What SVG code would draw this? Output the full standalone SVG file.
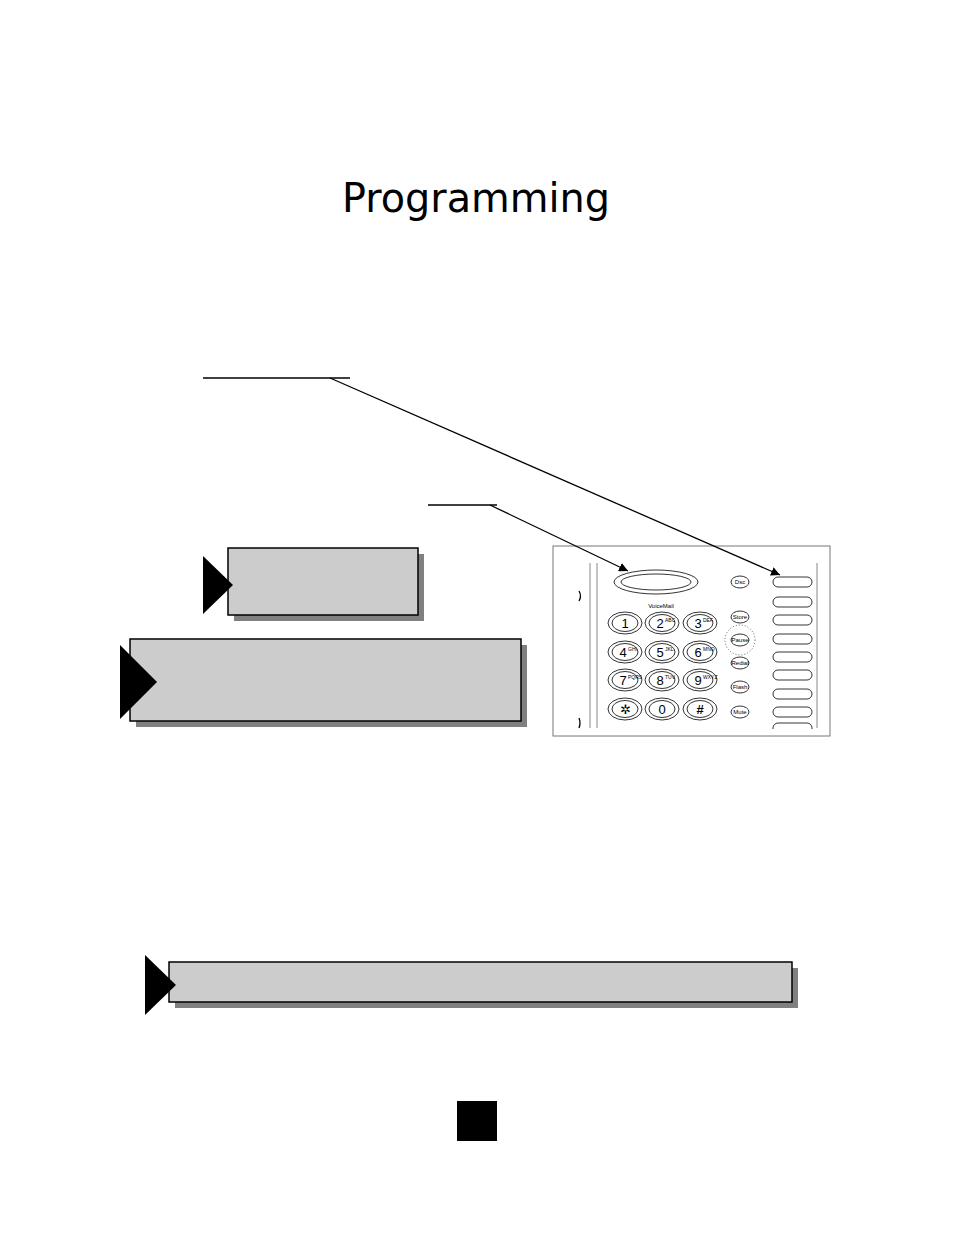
<svg xmlns="http://www.w3.org/2000/svg" width="954" height="1235" viewBox="0 0 954 1235">
<style>
.box{fill:#cccccc;stroke:#000;stroke-width:1.5}
.sh{fill:#808080}
.ln{stroke:#000;stroke-width:1.3;fill:none}
.k{fill:#fff;stroke:#000;stroke-width:0.8}
.kt{font-family:"Liberation Sans",Arial,sans-serif;font-size:13px;text-anchor:middle}
.sup{font-family:"Liberation Sans",Arial,sans-serif;font-size:5px}
.st{font-family:"Liberation Sans",Arial,sans-serif;font-size:6px;text-anchor:middle}
</style>
<defs>
<marker id="ah" viewBox="0 0 10 10" refX="10" refY="5" markerWidth="9" markerHeight="9" orient="auto" markerUnits="userSpaceOnUse"><path d="M0,0L10,5L0,10z"/></marker>
</defs>
<rect width="954" height="1235" fill="#fff"/>
<text x="476" y="212" font-family="DejaVu Sans,sans-serif" font-size="40" text-anchor="middle" textLength="268" lengthAdjust="spacingAndGlyphs">Programming</text>
<g id="phone">
<rect x="553" y="546" width="277" height="190" fill="#fff" stroke="#777" stroke-width="1"/>
<line x1="590" y1="563" x2="590" y2="728" stroke="#888"/>
<line x1="597" y1="563" x2="597" y2="728" stroke="#888"/>
<line x1="817" y1="563" x2="817" y2="728" stroke="#888"/>
<path d="M579,591 q3,5 0,10" class="ln" stroke-width="0.8"/>
<path d="M579,718 q2,5 0,10" class="ln" stroke-width="0.8"/>
<ellipse cx="656" cy="582" rx="42" ry="12" class="k"/>
<ellipse cx="656" cy="582" rx="35" ry="8" class="k"/>
<text x="661" y="608" class="st" font-size="7">VoiceMail</text>
<g id="keys">
<ellipse cx="625" cy="623" rx="17" ry="11" class="k"/><ellipse cx="625" cy="623" rx="13" ry="8.5" class="k"/><text x="625" y="628" class="kt">1</text>
<ellipse cx="662" cy="623" rx="17" ry="11" class="k"/><ellipse cx="662" cy="623" rx="13" ry="8.5" class="k"/><text x="660" y="628" class="kt">2</text><text x="665" y="622" class="sup">ABC</text>
<ellipse cx="700" cy="623" rx="17" ry="11" class="k"/><ellipse cx="700" cy="623" rx="13" ry="8.5" class="k"/><text x="698" y="628" class="kt">3</text><text x="703" y="622" class="sup">DEF</text>
<ellipse cx="625" cy="652" rx="17" ry="11" class="k"/><ellipse cx="625" cy="652" rx="13" ry="8.5" class="k"/><text x="623" y="657" class="kt">4</text><text x="628" y="651" class="sup">GHI</text>
<ellipse cx="662" cy="652" rx="17" ry="11" class="k"/><ellipse cx="662" cy="652" rx="13" ry="8.5" class="k"/><text x="660" y="657" class="kt">5</text><text x="665" y="651" class="sup">JKL</text>
<ellipse cx="700" cy="652" rx="17" ry="11" class="k"/><ellipse cx="700" cy="652" rx="13" ry="8.5" class="k"/><text x="698" y="657" class="kt">6</text><text x="703" y="651" class="sup">MNO</text>
<ellipse cx="625" cy="680" rx="17" ry="11" class="k"/><ellipse cx="625" cy="680" rx="13" ry="8.5" class="k"/><text x="623" y="685" class="kt">7</text><text x="628" y="679" class="sup">PQRS</text>
<ellipse cx="662" cy="680" rx="17" ry="11" class="k"/><ellipse cx="662" cy="680" rx="13" ry="8.5" class="k"/><text x="660" y="685" class="kt">8</text><text x="665" y="679" class="sup">TUV</text>
<ellipse cx="700" cy="680" rx="17" ry="11" class="k"/><ellipse cx="700" cy="680" rx="13" ry="8.5" class="k"/><text x="698" y="685" class="kt">9</text><text x="703" y="679" class="sup">WXYZ</text>
<ellipse cx="625" cy="709" rx="17" ry="11" class="k"/><ellipse cx="625" cy="709" rx="13" ry="8.5" class="k"/><text x="625" y="714" class="kt">✲</text>
<ellipse cx="662" cy="709" rx="17" ry="11" class="k"/><ellipse cx="662" cy="709" rx="13" ry="8.5" class="k"/><text x="662" y="714" class="kt">0</text>
<ellipse cx="700" cy="709" rx="17" ry="11" class="k"/><ellipse cx="700" cy="709" rx="13" ry="8.5" class="k"/><text x="700" y="714" class="kt" font-weight="bold">#</text>
</g>
<g id="side">
<ellipse cx="740" cy="582" rx="9" ry="6" class="k"/><text x="740" y="584" class="st">Dsc</text>
<ellipse cx="740" cy="617" rx="9" ry="6" class="k"/><text x="740" y="619" class="st">Store</text>
<circle cx="740" cy="640" r="15" fill="none" stroke="#000" stroke-width="0.6" stroke-dasharray="1,2"/>
<ellipse cx="740" cy="640" rx="9" ry="6" class="k"/><text x="740" y="642" class="st">Pause</text>
<ellipse cx="740" cy="663" rx="9" ry="6" class="k"/><text x="740" y="665" class="st">Redial</text>
<ellipse cx="740" cy="687" rx="9" ry="6" class="k"/><text x="740" y="689" class="st">Flash</text>
<ellipse cx="740" cy="712" rx="9" ry="6" class="k"/><text x="740" y="714" class="st">Mute</text>
</g>
<g id="linekeys">
<rect x="773" y="577" width="39" height="10" rx="5" class="k"/>
<rect x="773" y="597" width="39" height="10" rx="5" class="k"/>
<rect x="773" y="615" width="39" height="10" rx="5" class="k"/>
<rect x="773" y="634" width="39" height="10" rx="5" class="k"/>
<rect x="773" y="652" width="39" height="10" rx="5" class="k"/>
<rect x="773" y="670" width="39" height="10" rx="5" class="k"/>
<rect x="773" y="689" width="39" height="10" rx="5" class="k"/>
<rect x="773" y="707" width="39" height="10" rx="5" class="k"/>
<path d="M773,729 v-1 a5,5 0 0 1 5,-5 h29 a5,5 0 0 1 5,5 v1" class="k"/>
</g>
</g>
<g id="connectors">
<line x1="203" y1="378" x2="350" y2="378" class="ln"/>
<line x1="330" y1="378" x2="780" y2="575" class="ln" marker-end="url(#ah)"/>
<line x1="428" y1="505" x2="497" y2="505" class="ln"/>
<line x1="490" y1="505" x2="628" y2="571" class="ln" marker-end="url(#ah)"/>
</g>
<g id="box1">
<rect x="234" y="554" width="190" height="67" class="sh"/>
<rect x="228" y="548" width="190" height="67" class="box"/>
<path d="M203,556L233,585L203,614z"/>
</g>
<g id="box2">
<rect x="136" y="645" width="391" height="82" class="sh"/>
<rect x="130" y="639" width="391" height="82" class="box"/>
<path d="M120,645L157,682L120,719z"/>
</g>
<g id="box3">
<rect x="175" y="968" width="623" height="40" class="sh"/>
<rect x="169" y="962" width="623" height="40" class="box"/>
<path d="M145,955L176,985L145,1015z"/>
</g>
<rect id="pagenum" x="457" y="1101" width="40" height="40" fill="#000"/>
</svg>
